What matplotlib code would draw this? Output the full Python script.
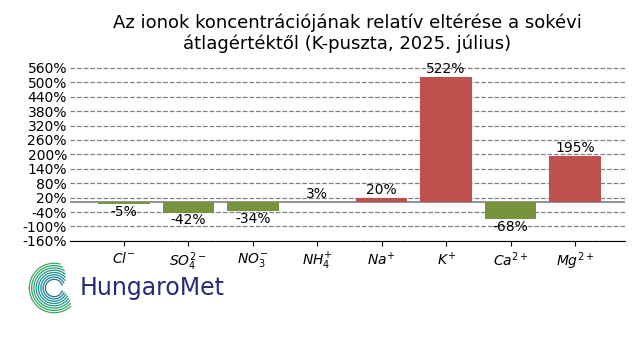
import numpy as np
import matplotlib
matplotlib.use("Agg")
import matplotlib.pyplot as plt

# adatok
ionok = [r"$Cl^{-}$", r"$SO_4^{2-}$", r"$NO_3^{-}$", r"$NH_4^{+}$",
         r"$Na^{+}$", r"$K^{+}$", r"$Ca^{2+}$", r"$Mg^{2+}$"]
elteres = [-5, -42, -34, 3, 20, 522, -68, 195]
y_ticks = list(range(-160, 561, 60))

ZOLD = "#77933C"
PIROS = "#C0504D"

fig = plt.figure(figsize=(6.4, 3.6), dpi=100)
ax = fig.add_axes([0.109, 0.331, 0.868, 0.497])

x = np.arange(len(ionok))
szinek = [PIROS if v > 0 else ZOLD for v in elteres]
ax.bar(x, elteres, width=0.8, color=szinek, zorder=3)
ax.axhline(0, color="#808080", lw=1.2, zorder=2)

for xi, v in zip(x, elteres):
    if v >= 0:
        ax.text(xi, v + 4, f"{v}%", ha="center", va="bottom", fontsize=10)
    else:
        ax.text(xi, v - 4, f"{v}%", ha="center", va="top", fontsize=10)

ax.set_yticks(y_ticks)
ax.set_yticklabels([f"{t}%" for t in y_ticks], fontsize=10)
ax.set_ylim(-160, 585)
ax.set_xlim(-0.84, 7.78)
ax.set_xticks(x)
ax.set_xticklabels(ionok, fontsize=10)
ax.yaxis.grid(True, ls="--", color="#808080", lw=0.9, zorder=0)
for s in ("top", "right", "left"):
    ax.spines[s].set_visible(False)
ax.tick_params(axis="y", length=0, pad=2)

ax.set_title("Az ionok koncentrációjának relatív eltérése a sokévi\n"
             "átlagértéktől (K-puszta, 2025. július)", fontsize=13, pad=9)

# HungaroMet logó
lax = fig.add_axes([0.042, 0.12, 0.085, 0.16])
lax.set_aspect("equal")
lax.axis("off")
cmap = matplotlib.colors.LinearSegmentedColormap.from_list("hm", ["#1f6fa0", "#1a9a8a", "#3aaa5a"])
for i, r in enumerate(np.linspace(0.35, 1.0, 8)):
    t = np.linspace(np.deg2rad(20 + i * 8), np.deg2rad(340 - i * 4), 100)
    lax.plot(r * np.cos(t), r * np.sin(t), color=cmap(i / 7), lw=0.9)
lax.set_xlim(-1.1, 1.1)
lax.set_ylim(-1.1, 1.1)
fig.text(0.125, 0.2, "HungaroMet", fontsize=17, color="#2b2a7a",
         va="center", ha="left", family="DejaVu Sans")

fig.savefig("out.png", dpi=100)
